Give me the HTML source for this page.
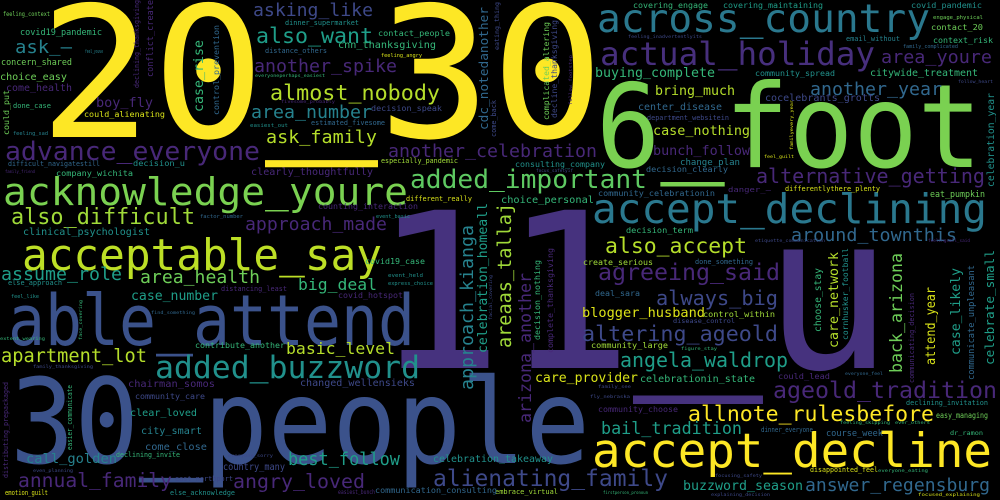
<!DOCTYPE html>
<html><head><meta charset="utf-8"><title>Word cloud</title>
<style>
html,body{margin:0;padding:0;background:#000;}
svg{display:block;}
text{font-family:"DejaVu Sans Mono","Liberation Mono",monospace;}
</style></head>
<body>
<svg id="cloud" width="1000" height="500" viewBox="0 0 1000 500" xmlns="http://www.w3.org/2000/svg">
<rect x="0" y="0" width="1000" height="500" fill="#000"/>
</svg>
<script>
// horizontal words: [text, x, baseline, fontSize, length, color]
const hWords = [
["20_30",39,137,182,565,"#fde725"],
["11_u",373,368,217,520,"#46327e"],
["6_foot",596,167,116,386,"#7ad151"],
["30_people",10,463,118,580,"#3b528b"],
["able_attend",8,345,70,407,"#3b528b"],
["acknowledge_youre",3,205,38,405,"#7ad151"],
["acceptable_say",22,270,44,360,"#bddf26"],
["accept_decline",592,467,47,400,"#fde725"],
["accept_declining",592,223,41,395,"#2a788e"],
["across_country",597,32,39,333,"#2a788e"],
["actual_holiday",600,65,32,275,"#472f7d"],
["added_important",410,188,26,237,"#5ec962"],
["added_buzzword",155,378,31,265,"#21918c"],
["advance_everyone",5,160,26,255,"#482878"],
["also_difficult",11,224,22,184,"#a0da39"],
["alienating_family",433,486,23,235,"#3e4989"],
["allnote_rulesbefore",688,421,21,246,"#fde725"],
["ageold_tradition",773,398,23,224,"#482878"],
["agreeing_said",598,280,23,182,"#482878"],
["also_accept",605,253,21,142,"#b5de2b"],
["altering_ageold",582,341,21.5,196,"#3e4989"],
["angela_waldrop",620,367,20,168,"#1f9e89"],
["always_big",656,305,20,122,"#3e4989"],
["alternative_getting",756,183,20,229,"#482878"],
["another_celebration",388,157,18,209,"#482878"],
["around_townthis",791,241,18,166,"#31688e"],
["another_year",810,95,18,132,"#31688e"],
["area_youre",881,63,18,111,"#482878"],
["answer_regensburg",805,491,18,185,"#31688e"],
["almost_nobody",270,100,21.5,170,"#b5de2b"],
["another_spike",254,72,18,143,"#482878"],
["area_number",251,118,18,121,"#26828e"],
["ask_family",266,143,18,111,"#b5de2b"],
["also_want",256,43,21,117,"#1f9e89"],
["asking_like",253,16,18,120,"#3e4989"],
["ask_—",15,53,18,57,"#26828e"],
["approach_made",245,230,18,142,"#482878"],
["assume_role",1,280,18,121,"#1f9e89"],
["area_health",140,283,18,120,"#6ece58"],
["apartment_lot",1,362,19,146,"#b5de2b"],
["annual_family",18,487,19.5,154,"#482878"],
["angry_loved",233,488,19.5,132,"#482878"],
["best_follow",288,465,18,112,"#1f9e89"],
["big_deal",298,290,16,79,"#35b779"],
["basic_level",286,354,16,109,"#b5de2b"],
["bail_tradition",601,434,16.5,141,"#1f9e89"],
["boy_fly",96,107,13,57,"#482878"],
["buying_complete",595,77,13,120,"#35b779"],
["bring_much",655,95,13,80,"#b5de2b"],
["case_nothing",653,135,13,97,"#b5de2b"],
["bunch_follow",653,155,13,97,"#482878"],
["blogger_husband",582,317,13.4,123,"#dde318"],
["care_provider",535,382,13,103,"#d8e219"],
["buzzword_season",683,490,13,120,"#1f9e89"],
["call_golden",26,463,13.4,91,"#26828e"],
["case_number",131,300,13,87,"#1f9e89"],
["covid19_pandemic",20,35,9,82,"#35b779"],
["concern_shared",1,65,8.5,71,"#6ece58"],
["choice_easy",0,80,10,67,"#6ece58"],
["come_health",6,91,10,66,"#482878"],
["done_case",13,108,7,38,"#35b779"],
["feeling_sad",13,135,5.5,35,"#26828e"],
["feeling_context",3,16,6,47,"#6ece58"],
["feel_youve",85,53,5,18,"#26828e"],
["could_alienating",84,117,8.3,81,"#d8e219"],
["difficult_navigatestill",8,166,6.6,92,"#31688e"],
["family_friend",5,173,4,30,"#482878"],
["decision_u",133,166,8.3,52,"#21918c"],
["company_wichita",56,176,8.3,77,"#35b779"],
["clearly_thoughtfully",251,175,10,122,"#482878"],
["clinical_psychologist",23,235,10,127,"#21918c"],
["factor_number",200,218,5,43,"#31688e"],
["counting_interaction",318,209,8.2,100,"#482878"],
["event_basic",376,218,5,34,"#21918c"],
["different_really",406,201,6.7,66,"#d8e219"],
["especially_pandemic",381,163,6.6,77,"#a0da39"],
["estimated_fivesome",311,125,6.6,74,"#31688e"],
["easiest_out",250,127,5.5,38,"#21918c"],
["decision_speak",371,111,8.2,71,"#3e4989"],
["fivesome_probably",281,103,4.5,54,"#482878"],
["everyoneperhaps_easiest",255,77,4.5,70,"#35b779"],
["feeling_angry",381,57,5,41,"#d8e219"],
["distance_others",265,53,6.6,62,"#31688e"],
["cnn_thanksgiving",338,48,10,98,"#35b779"],
["contact_people",378,36,8.3,72,"#35b779"],
["dinner_supermarket",285,25,6.6,74,"#21918c"],
["covering_engage",633,8,8.2,75,"#35b779"],
["covering_maintaining",723,8,8.2,100,"#1f9e89"],
["covid_pandemic",911,8,8.2,71,"#21918c"],
["engage_physical",933,19,5.6,50,"#6ece58"],
["contact_20",931,30,8.3,52,"#6ece58"],
["context_risk",933,43,8.2,60,"#35b779"],
["email_without",846,41,6.6,54,"#26828e"],
["family_complicated",903,48,5,55,"#31688e"],
["feeling_inadvertentlyits",628,38,4.5,74,"#3e4989"],
["community_spread",755,76,8.2,80,"#21918c"],
["citywide_treatment",870,76,9.8,108,"#35b779"],
["follow_heart",958,83,4,35,"#3e4989"],
["cocelebrants_grotts",765,101,10,115,"#3e4989"],
["center_disease",638,110,9.7,84,"#31688e"],
["department_websitein",647,120,6.6,82,"#3e4989"],
["change_plan",680,165,8.5,60,"#26828e"],
["consulting_company",515,167,8.2,90,"#21918c"],
["decision_clearly",646,172,8.3,82,"#31688e"],
["focus_safetyif",536,172,4.5,37,"#3e4989"],
["community_celebrationin",598,196,8.3,117,"#31688e"],
["danger_—",728,192,6.6,43,"#482878"],
["differentlythere_plenty",785,191,6.7,95,"#d8e219"],
["choice_personal",501,203,10,93,"#35b779"],
["eat_pumpkin",930,197,8.8,55,"#6ece58"],
["feel_guilt",764,158,4.5,30,"#d8e219"],
["decision_term",626,233,8.2,67,"#35b779"],
["etiquette_communication",755,242,4.5,70,"#3e4989"],
["feelingsall_said",928,242,4.5,42,"#482878"],
["create_serious",583,265,8.2,70,"#a0da39"],
["done_something",695,264,6.7,58,"#31688e"],
["deal_sara",595,296,8,45,"#31688e"],
["control_within",703,317,8.3,72,"#a0da39"],
["disease_control",673,323,6,62,"#3e4989"],
["community_large",591,348,8.3,77,"#a0da39"],
["figure_stay",681,350,4.5,36,"#35b779"],
["celebrationin_state",640,382,10,115,"#35b779"],
["could_lead",778,379,8.3,52,"#482878"],
["everyone_feel",845,375,4.5,38,"#31688e"],
["family_see",598,388,4.5,33,"#3e4989"],
["fly_nebraska",590,398,4.5,40,"#3e4989"],
["community_choose",598,412,8.2,80,"#482878"],
["declining_invitation",906,405,6.7,82,"#21918c"],
["easy_managing",936,418,8.3,52,"#6ece58"],
["feeling_skipping",840,424,4.5,50,"#35b779"],
["ever_others",895,424,4.5,35,"#35b779"],
["dinner_everyone",761,432,6.7,52,"#31688e"],
["course_week",826,436,9,57,"#31688e"],
["dr_ramon",950,435,6.5,33,"#35b779"],
["celebration_takeaway",433,462,9.8,120,"#21918c"],
["disappointed_feel",810,472,6.6,68,"#d8e219"],
["everyone_eating",878,472,4.5,50,"#35b779"],
["focusing_safety",715,477,4.5,47,"#3e4989"],
["embrace_virtual",495,494,7,63,"#a0da39"],
["firstperson_pronoun",603,494,4.5,45,"#35b779"],
["explaining_decision",711,496,4.5,59,"#3e4989"],
["focused_explaining",918,496,4.5,62,"#d8e219"],
["covid19_case",365,264,8,60,"#35b779"],
["event_held",388,277,5,35,"#21918c"],
["express_choice",388,285,5,45,"#21918c"],
["distancing_least",221,291,6.6,66,"#482878"],
["covid_hotspot",338,298,8,65,"#482878"],
["feel_like",11,298,5,28,"#21918c"],
["else_approach",8,285,6.6,54,"#21918c"],
["find_something",151,314,4.5,44,"#31688e"],
["extent_wearing",0,340,4.5,45,"#35b779"],
["family_thanksgiving",33,368,4.5,60,"#3e4989"],
["contribute_another",195,348,8.3,90,"#35b779"],
["chairman_somos",128,387,10,87,"#482878"],
["changed_wellensieks",300,386,10,115,"#3e4989"],
["community_care",135,399,8.2,70,"#3e4989"],
["clear_loved",130,416,10,67,"#1f9e89"],
["city_smart",141,434,10,61,"#26828e"],
["come_close",145,450,10,62,"#31688e"],
["declining_invite",116,457,6.6,64,"#35b779"],
["everyone_sorry",228,457,4.5,45,"#3e4989"],
["country_many",223,470,10,62,"#3e4989"],
["even_planning",33,472,4.5,40,"#3e4989"],
["east_northport",175,481,6.6,58,"#3e4989"],
["easiest_bunch",338,494,6.5,37,"#482878"],
["communication_consulting",375,493,8.3,122,"#31688e"],
["else_acknowledge",170,495,6.6,65,"#21918c"],
["emotion_guilt",5,495,6.6,43,"#d8e219"]
];
// vertical words (read bottom to top): [text, baselineX, bottomY, fontSize, length, color]
const vWords = [
["could_put",9,135,7.5,45,"#6ece58"],
["declining_thanksgiving",139,88,6.7,88,"#482878"],
["conflict_create",153,77,8.5,77,"#482878"],
["case_rise",203,112,13.3,72,"#35b779"],
["control_prevention",219,115,8.3,90,"#31688e"],
["cdc_notedanother",488,130,12.8,123,"#31688e"],
["come_back",496,137,6.9,37,"#3e4989"],
["eating_thing",499,50,6,48,"#3e4989"],
["complicated_altering",549,120,8.2,98,"#6ece58"],
["decline_thanksgiving",557,118,8,98,"#3e4989"],
["follow_footstep",572,105,4.5,50,"#482878"],
["approach_kianga",473,390,18,165,"#26828e"],
["celebration_homeall",487,353,13,150,"#1f9e89"],
["areaas_tallaj",511,348,18.5,145,"#a0da39"],
["arizona_another",531,423,17,150,"#482878"],
["decision_nothing",540,340,8.3,80,"#35b779"],
["complete_thanksgiving",553,353,8.3,105,"#482878"],
["facial_covering",492,320,4.5,45,"#3e4989"],
["back_arizona",902,373,17,120,"#6ece58"],
["communicating_decision",914,383,6.8,90,"#482878"],
["attend_year",935,365,13,78,"#d8e219"],
["case_likely",960,355,13,87,"#1f9e89"],
["communicate_unpleasant",974,380,8.7,115,"#31688e"],
["celebrate_small",994,365,12.8,115,"#1f9e89"],
["care_network",838,348,13.3,96,"#b5de2b"],
["cornhusker_football",848,340,8.3,92,"#21918c"],
["choose_stay",821,332,9.5,64,"#35b779"],
["celebration_year",994,187,9.7,94,"#21918c"],
["familyevery_year",793,150,4.5,50,"#d8e219"],
["easier_communicate",72,450,6.6,65,"#35b779"],
["distributing_prepackaged",8,478,6.7,96,"#482878"],
["face_covering",82,340,4.5,40,"#35b779"]
];
const NS = "http://www.w3.org/2000/svg";
const svg = document.getElementById("cloud");
function slug(s){return "word-" + s.toLowerCase().replace(/[^a-z0-9]+/g,"-").replace(/-+$/,"");}
function fill(t, word, size){
  // raise underscores slightly to match the reference font
  const parts = word.split("_");
  const up = (size * 0.07).toFixed(2);
  parts.forEach(function(p, i){
    if (i > 0) {
      const u = document.createElementNS(NS, "tspan");
      u.setAttribute("dy", "-" + up);
      u.textContent = "_";
      t.appendChild(u);
      const r = document.createElementNS(NS, "tspan");
      r.setAttribute("dy", up);
      r.textContent = p;
      t.appendChild(r);
    } else {
      t.appendChild(document.createTextNode(p));
    }
  });
}
hWords.forEach(function(w){
  const t = document.createElementNS(NS,"text");
  t.setAttribute("x", w[1]);
  t.setAttribute("y", w[2]);
  t.setAttribute("font-size", w[3]);
  t.setAttribute("textLength", w[4]);
  t.setAttribute("lengthAdjust", "spacingAndGlyphs");
  t.setAttribute("fill", w[5]);
  fill(t, w[0], w[3]);
  
  
  svg.appendChild(t);
});
vWords.forEach(function(w){
  const t = document.createElementNS(NS,"text");
  t.setAttribute("x", 0);
  t.setAttribute("y", 0);
  t.setAttribute("transform", "translate(" + w[1] + "," + w[2] + ") rotate(-90)");
  t.setAttribute("font-size", w[3]);
  t.setAttribute("textLength", w[4]);
  t.setAttribute("lengthAdjust", "spacingAndGlyphs");
  t.setAttribute("fill", w[5]);
  fill(t, w[0], w[3]);
  
  
  svg.appendChild(t);
});
</script>
</body></html>
